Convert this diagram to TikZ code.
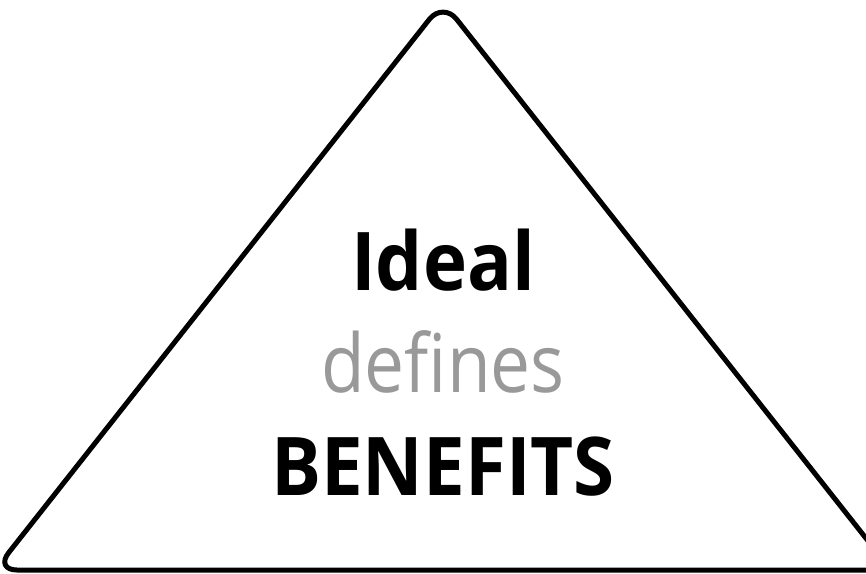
\documentclass[tikz,border=0pt]{standalone}
\usepackage{fontspec}
\setmainfont{Open Sans}
\newfontfamily\boldword[FakeStretch=0.92]{Open Sans}
\newfontfamily\greyword[FakeStretch=0.88]{Open Sans}
\usepackage{tikz}

\begin{document}
\begin{tikzpicture}[x=1pt,y=-1pt]
\useasboundingbox (0,0) rectangle (866,573);

\coordinate (apex) at (443,2);
\coordinate (bl) at (-5,570);
\coordinate (br) at (891,570);

\draw[line width=5pt,rounded corners=22pt] (apex) -- (br) -- (bl) -- cycle;

\node[anchor=base,font=\boldword\fontsize{81}{81}\selectfont\bfseries] (ideal) at (443,290) {Ideal};
\node[anchor=base,font=\greyword\fontsize{81}{81}\selectfont,text=black!40] (defines) at (443,392) {defines};
\node[anchor=base,font=\boldword\fontsize{81}{81}\selectfont\bfseries] (benefits) at (443,495) {BENEFITS};
\end{tikzpicture}
\end{document}
